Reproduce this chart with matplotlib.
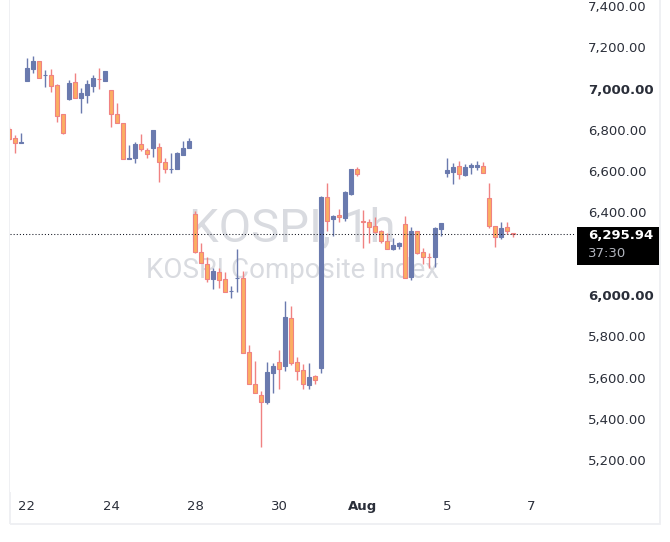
import matplotlib
matplotlib.use("Agg")
import matplotlib.pyplot as plt
import matplotlib.transforms as mtransforms
from matplotlib.patches import Rectangle
import numpy as np

# ---------------- data (KOSPI hourly candles, Jul 21 - Aug 6) ----------------
# bar index 0 = Jul 22 09:00 ; 7 hourly bars per trading day
bar_index = list(range(-3, 82))
opens = [6804, 6759, 6737,
         7038, 7094, 7133, 7063, 7065, 7017, 6877,
         6948, 7030, 6955, 6969, 7014, 7047, 7038,
         6993, 6877, 6831, 6657, 6665, 6730, 6702,
         6713, 6715, 6643, 6609, 6609, 6678, 6713,
         6391, 6210, 6150, 6076, 6110, 6076, 6018,
         6080, 6081, 5723, 5569, 5516, 5483, 5624,
         5674, 5658, 5887, 5674, 5637, 5564, 5608,
         5648, 6473, 6367, 6387, 6374, 6489, 6610,
         6356, 6352, 6334, 6310, 6262, 6221, 6239,
         6344, 6089, 6310, 6207, 6184, 6185, 6318,
         6592, 6597, 6625, 6581, 6618, 6622, 6625,
         6468, 6336, 6279, 6328, 6302]
highs = [6815, 6775, 6783,
         7146, 7157, 7133, 7090, 7094, 7022, 6877,
         7041, 7077, 7004, 7041, 7065, 7098, 7085,
         6993, 6931, 6831, 6726, 6741, 6778, 6710,
         6799, 6735, 6665, 6686, 6694, 6746, 6759,
         6407, 6253, 6185, 6132, 6129, 6110, 6044,
         6221, 6118, 5758, 5680, 5535, 5674, 5669,
         5734, 5971, 5947, 5701, 5666, 5669, 5613,
         6481, 6541, 6387, 6415, 6504, 6610, 6621,
         6412, 6367, 6376, 6315, 6299, 6274, 6255,
         6383, 6328, 6310, 6226, 6202, 6328, 6347,
         6665, 6638, 6649, 6634, 6641, 6649, 6646,
         6544, 6336, 6355, 6355, 6302]
lows = [6750, 6689, 6737,
        7038, 7077, 7052, 7009, 6985, 6839, 6780,
        6944, 6955, 6883, 6931, 6985, 6999, 7038,
        6815, 6831, 6657, 6657, 6641, 6697, 6662,
        6670, 6549, 6592, 6592, 6609, 6678, 6713,
        6205, 6153, 6064, 6028, 6035, 6013, 5987,
        6016, 5718, 5569, 5524, 5262, 5471, 5524,
        5543, 5633, 5661, 5588, 5545, 5545, 5568,
        5624, 6310, 6286, 6355, 6358, 6484, 6576,
        6226, 6253, 6302, 6253, 6221, 6218, 6221,
        6084, 6073, 6197, 6150, 6129, 6137, 6287,
        6573, 6536, 6560, 6576, 6585, 6605, 6589,
        6323, 6234, 6270, 6294, 6283]
closes = [6755, 6735, 6740,
          7098, 7133, 7052, 7066, 7014, 6868, 6786,
          7028, 6955, 6980, 7022, 7052, 7044, 7085,
          6875, 6831, 6657, 6665, 6730, 6707, 6681,
          6799, 6646, 6609, 6611, 6686, 6713, 6746,
          6210, 6153, 6076, 6116, 6073, 6013, 6020,
          6082, 5718, 5569, 5524, 5480, 5627, 5658,
          5640, 5895, 5669, 5633, 5568, 5601, 5588,
          6476, 6358, 6383, 6376, 6500, 6610, 6585,
          6354, 6331, 6307, 6262, 6221, 6242, 6250,
          6084, 6310, 6205, 6185, 6182, 6323, 6347,
          6605, 6618, 6585, 6618, 6630, 6630, 6589,
          6336, 6279, 6323, 6311, 6295.94]

x_tick_pos = [0, 14, 28, 42, 56, 70, 84]
x_tick_labels = ["22", "24", "28", "30", "Aug", "5", "7"]
y_ticks = [5200, 5400, 5600, 5800, 6000, 6200, 6400, 6600, 6800, 7000, 7200, 7400]
y_ticks = [t for t in y_ticks if t != 6200]
bold_y = [6000, 7000]
bold_x = ["Aug"]
countdown = "37:30"
title_main = "KOSPI, 1h"
title_sub = "KOSPI Composite Index"

# ---------------- style ----------------
UP_FILL = "#6a7aae"
UP_EDGE = "#6a7aae"
DN_FILL = "#fbae62"
DN_EDGE = "#f08282"
TXT = "#2a2e39"

plt.rcParams["font.family"] = ["DejaVu Sans"]
plt.rcParams["lines.scale_dashes"] = False

W, H = 670, 542
fig = plt.figure(figsize=(W / 100, H / 100), dpi=100)
fig.patch.set_facecolor("white")

ax_left, ax_right, ax_bottom_px = 10, 575, 492
ax = fig.add_axes([ax_left / W, (H - ax_bottom_px) / H,
                   (ax_right - ax_left) / W, ax_bottom_px / H])
ax.set_facecolor("white")
for s in ax.spines.values():
    s.set_visible(False)

o = np.array(opens, float)
h = np.array(highs, float)
l = np.array(lows, float)
c = np.array(closes, float)
xi = np.array(bar_index, float)
up = c >= o

# wicks
ax.vlines(xi[up], l[up], h[up], colors=UP_EDGE, linewidth=1.0, zorder=2)
ax.vlines(xi[~up], l[~up], h[~up], colors=DN_EDGE, linewidth=1.0, zorder=2)
# bodies
ax.bar(xi[up], np.abs(c - o)[up], bottom=np.minimum(o, c)[up], width=0.62,
       color=UP_FILL, edgecolor=UP_EDGE, linewidth=0.8, zorder=3)
ax.bar(xi[~up], np.abs(c - o)[~up], bottom=np.minimum(o, c)[~up], width=0.62,
       color=DN_FILL, edgecolor=DN_EDGE, linewidth=0.8, zorder=3)

ax.set_xlim(-2.833, 91.333)
ax.set_ylim(5046.0, 7428.6)

# watermark
ax.text(0.5, 0.51, title_main, transform=ax.transAxes, ha="center", va="baseline",
        fontsize=34, color="#d9dbe0", family=["Roboto", "DejaVu Sans"], zorder=1)
ax.text(0.5, 0.435, title_sub, transform=ax.transAxes, ha="center", va="baseline",
        fontsize=20, color="#d9dbe0", family=["Roboto", "DejaVu Sans"], zorder=1)

# last price dotted line
last = c[-1]
ax.axhline(last, color="#131722", linewidth=0.75, linestyle=(0, (0.75, 1.5)), zorder=4)

# axes ticks
ax.yaxis.tick_right()
ax.set_yticks(y_ticks)
ax.set_yticklabels([f"{t:,.2f}" for t in y_ticks])
ax.tick_params(axis="y", length=0, pad=9.4, labelsize=9.5, labelcolor=TXT)
for lab, t in zip(ax.get_yticklabels(), y_ticks):
    if t in bold_y:
        lab.set_fontweight("bold")
ax.set_xticks(x_tick_pos)
ax.set_xticklabels(x_tick_labels)
ax.tick_params(axis="x", length=0, pad=6, labelsize=9.5, labelcolor=TXT)
for lab in ax.get_xticklabels():
    if lab.get_text() in bold_x:
        lab.set_fontweight("bold")

# price label box
blend = mtransforms.blended_transform_factory(ax.transAxes, ax.transData)
box_trans = fig.dpi_scale_trans + mtransforms.ScaledTranslation(1.0, last, blend)
ax.add_patch(Rectangle((0.017, -0.307), 0.823, 0.38, transform=box_trans,
                       facecolor="black", edgecolor="none", clip_on=False, zorder=10))
ax.annotate(f"{last:,.2f}", xy=(1.0, last), xycoords=blend, xytext=(9.4, -1.5),
            textcoords="offset points", ha="left", va="center", color="white",
            fontsize=9.5, fontweight="bold", annotation_clip=False, zorder=11)
ax.annotate(countdown, xy=(1.0, last), xycoords=blend, xytext=(9.4, -13.8),
            textcoords="offset points", ha="left", va="center", color="#b2b5be",
            fontsize=9.5, annotation_clip=False, zorder=11)

# outer light frame
fig.add_artist(Rectangle((9.5 / W, 18.5 / H), (660 - 9.5) / W, 1.2, transform=fig.transFigure,
                         facecolor="none", edgecolor="#eeeff2", linewidth=1.3, zorder=0))

fig.savefig("out.png", dpi=100, facecolor="white")
